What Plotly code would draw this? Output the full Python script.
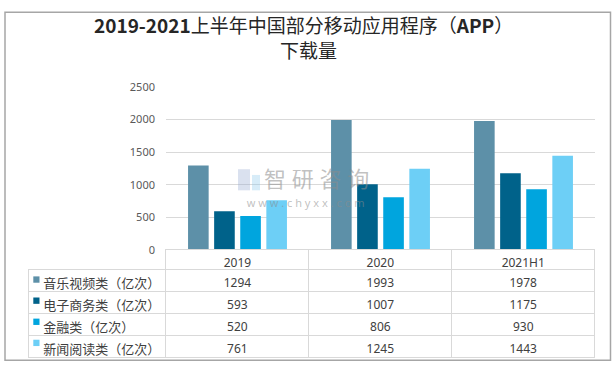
import plotly.graph_objects as go

W, H = 615, 371

categories = ["2019", "2020", "2021H1"]
series_names = ["音乐视频类（亿次）", "电子商务类（亿次）", "金融类（亿次）", "新闻阅读类（亿次）"]
music_video = [1294, 1993, 1978]
ecommerce = [593, 1007, 1175]
finance = [520, 806, 930]
news_reading = [761, 1245, 1443]
y_ticks = [0, 500, 1000, 1500, 2000, 2500]

series_values = [music_video, ecommerce, finance, news_reading]
colors = ["#5D90A8", "#00628A", "#00A5DE", "#6DCFF6"]

FONT = "Noto Sans CJK SC"
NUM_FONT = "Noto Sans, Noto Sans CJK SC, sans-serif"

def px_x(v):
    return v / W

def px_y(v):
    return 1 - v / H

fig = go.Figure()
for name, vals, c in zip(series_names, series_values, colors):
    fig.add_trace(go.Bar(x=categories, y=vals, name=name, marker_color=c,
                         marker_line_width=0, showlegend=False))

# table geometry (pixels)
T_LEFT, T_RIGHT, T_TOP = 28.7, 595, 252
HEAD_H, ROW_H = 20, 22
LABEL_W = 166 - T_LEFT

label_cells = ["\u2002" + n for n in series_names]
cols = [label_cells]
for i in range(len(categories)):
    cols.append([str(v[i]) for v in series_values])

t_bottom = T_TOP + HEAD_H + ROW_H * len(series_names)
fig.add_trace(go.Table(
    domain=dict(x=[px_x(T_LEFT), px_x(T_RIGHT)], y=[px_y(t_bottom + 6), px_y(T_TOP)]),
    columnwidth=[LABEL_W, 143, 143, 143],
    header=dict(values=[""] + categories,
                fill_color=["rgba(0,0,0,0)", "white", "white", "white"],
                line=dict(color=["rgba(0,0,0,0)", "#D9D9D9", "#D9D9D9", "#D9D9D9"], width=1),
                align="center", height=HEAD_H,
                font=dict(family=NUM_FONT, size=12, color="#404040")),
    cells=dict(values=cols,
               fill_color="white",
               line=dict(color="#D9D9D9", width=1),
               align=["left", "center", "center", "center"], height=ROW_H,
               font=dict(family=[FONT, NUM_FONT, NUM_FONT, NUM_FONT],
                         size=[13, 12, 12, 12], color="#404040")),
))

shapes = [
    dict(type="rect", xref="paper", yref="paper", x0=px_x(5), x1=px_x(610.5),
         y0=px_y(367), y1=px_y(4.5), line=dict(color="#A6A6A6", width=1.5)),
    # watermark logo (approximate)
    dict(type="rect", xref="paper", yref="paper", x0=px_x(238), x1=px_x(250),
         y0=px_y(190), y1=px_y(168), line=dict(width=0),
         fillcolor="rgba(150,170,210,0.35)"),
    dict(type="rect", xref="paper", yref="paper", x0=px_x(252), x1=px_x(260),
         y0=px_y(190), y1=px_y(174), line=dict(width=0),
         fillcolor="rgba(140,200,235,0.35)"),
]
# legend squares in the table label column
for i, c in enumerate(colors):
    yc = T_TOP + HEAD_H + ROW_H * i + ROW_H / 2
    shapes.append(dict(type="rect", xref="paper", yref="paper",
                       x0=px_x(33.3), x1=px_x(39.5), y0=px_y(yc + 3.3), y1=px_y(yc - 3.3),
                       line=dict(width=0), fillcolor=c, layer="above"))

wm_text = ("<span style='font-size:22px'>\u2002\u2002智 研 咨 询</span><br>"
           "<span style='font-size:11px'>w w w . c h y x x . c o m</span>")

fig.update_layout(
    width=W, height=H,
    margin=dict(l=0, r=0, t=0, b=0),
    paper_bgcolor="white", plot_bgcolor="white",
    barmode="group", bargap=0.27, bargroupgap=0.21,
    font=dict(family=FONT, color="#595959"),
    xaxis=dict(domain=[px_x(166), px_x(595)], showticklabels=False, ticks="",
               showline=True, linecolor="#D9D9D9", linewidth=1, showgrid=False),
    yaxis=dict(domain=[px_y(252), px_y(82.3)], range=[0, 2500], tickvals=y_ticks,
               showgrid=True, gridcolor="#D9D9D9", gridwidth=1, zeroline=False,
               showline=False, ticks="", ticklabelstandoff=10,
               tickfont=dict(family=NUM_FONT, size=11, color="#595959")),
    annotations=[
        dict(text="<b>2019-2021</b>上半年中国部分移动应用程序（<b>APP</b>）<br>\u2002下载量",
             x=px_x(303), y=px_y(30), align="center",
             xref="paper", yref="paper", showarrow=False, xanchor="center", yanchor="middle",
             font=dict(family=FONT, size=19, color="#262626")),
        dict(text=wm_text, x=px_x(305), y=px_y(186), xref="paper", yref="paper", align="center",
             showarrow=False, xanchor="center", yanchor="middle",
             font=dict(family=NUM_FONT, size=15, color="rgba(140,140,140,0.55)")),
    ],
    shapes=shapes,
)

fig.write_html("out.html", config={"displayModeBar": False},
               post_script="document.body.style.margin='0';")
